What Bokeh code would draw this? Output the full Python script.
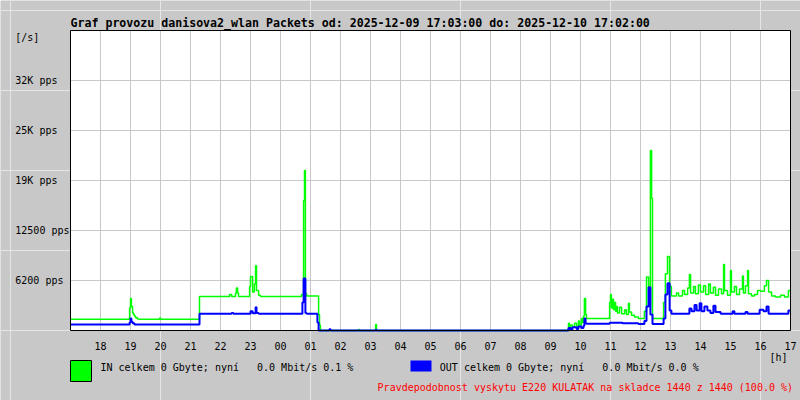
from bokeh.plotting import figure
from bokeh.models import Range1d, FixedTicker, Label, BoxAnnotation, Grid, LinearAxis
from bokeh.embed import file_html
from bokeh.resources import INLINE

# ---- data (hours since midnight of 2025-12-09; 24+ = next day) ----
in_t = [17.00, 18.97, 19.00, 19.03, 19.07, 19.10, 19.13, 19.17, 19.23, 19.30, 19.97, 20.00,
        21.30, 22.30, 22.37, 22.50, 22.53, 22.57, 22.60, 22.97, 23.00, 23.07, 23.13, 23.17,
        23.20, 23.27, 23.33, 24.70, 24.77, 24.80, 24.83, 24.87, 25.27, 25.30, 25.33,
        26.60, 26.63, 27.17, 27.20,
        33.60, 33.63, 33.67, 33.73, 33.80, 33.87, 33.93, 33.97, 34.03, 34.07, 34.10, 34.13,
        34.17, 34.20, 34.97, 35.00, 35.03, 35.07, 35.10, 35.13, 35.17, 35.20, 35.23, 35.30,
        35.37, 35.47, 35.53, 35.60, 35.63, 35.70, 35.80, 35.93, 36.13, 36.20, 36.27, 36.33,
        36.37, 36.40, 36.77, 36.83, 36.90, 36.97, 37.03, 37.20, 37.27, 37.40, 37.47, 37.57,
        37.63, 37.67, 37.77, 37.83, 37.93, 38.00, 38.10, 38.17, 38.27, 38.33, 38.43, 38.50,
        38.60, 38.70, 38.77, 38.80, 38.90, 39.00, 39.03, 39.13, 39.20, 39.30, 39.40, 39.43,
        39.50, 39.57, 39.60, 39.70, 39.80, 39.90, 40.00, 40.13, 40.20, 40.27, 40.37, 40.50,
        40.67, 40.80, 40.93, 41.00]
in_pps = [1400, 2800, 4000, 3000, 2200, 2000, 1800, 1600, 1450, 1400, 1550, 1400,
          4250, 4500, 4250, 4700, 5300, 4700, 4250, 5500, 6750, 4800, 5800, 8100,
          5000, 4400, 4250, 4500, 16250, 20000, 4600, 4300, 2000, 700, 0,
          120, 0, 750, 0,
          900, 300, 700, 400, 900, 500, 1200, 700, 1500, 1000, 1800, 4000,
          2000, 1500, 3500, 4500, 2800, 3900, 2600, 3500, 2400, 3000, 2200, 2900,
          2100, 2600, 2000, 3400, 2300, 1900, 1700, 1500, 2400, 6700, 3000, 22500,
          16500, 1500, 3500, 7100, 9250, 5500, 4300, 4700, 4300, 5000, 4500, 5300,
          7000, 4700, 5500, 4600, 5700, 4800, 5600, 4500, 5800, 4700, 5400, 4400,
          5200, 4600, 8250, 5000, 4400, 7500, 4800, 5500, 4500, 5200, 6800, 4700,
          5600, 7500, 4600, 4300, 4500, 5000, 4900, 5600, 6250, 4800, 4300, 4200,
          4400, 4200, 5000, 5000]

out_t = [17.00, 18.97, 19.00, 19.03, 19.07, 19.13, 21.30, 22.37, 22.43, 23.00, 23.07, 23.17,
         23.20, 23.27, 24.73, 24.77, 24.83, 24.87, 25.23, 25.27, 25.63, 25.67, 27.17, 27.20,
         33.60, 33.67, 33.73, 33.87, 33.93, 34.03, 34.10, 34.13, 34.17, 34.20, 34.97, 35.40,
         35.93, 36.13, 36.20, 36.27, 36.33, 36.40, 36.77, 36.83, 36.90, 36.97, 37.03, 37.63,
         37.70, 37.80, 37.87, 37.97, 38.03, 38.13, 38.23, 38.33, 38.43, 38.50, 38.67, 39.07,
         39.13, 39.50, 39.57, 39.97, 40.10, 40.20, 40.27, 40.93, 41.00]
out_pps = [750, 1000, 1500, 1100, 900, 750, 2100, 2200, 2100, 2400, 2150, 2900,
           2200, 2100, 3500, 6500, 2200, 2100, 1000, 0, 150, 0, 100, 0,
           300, 100, 400, 200, 500, 300, 600, 1500, 900, 830, 960, 900,
           800, 1200, 3000, 5400, 2000, 800, 1500, 4500, 5900, 2500, 2080, 2750,
           2400, 3200, 2500, 3400, 2400, 3000, 2500, 2200, 3100, 2300, 2100, 2400,
           2100, 2300, 2100, 2600, 2400, 3000, 2100, 2500, 2500]

x_ticks = list(range(18, 42))
x_tick_labels = ["18", "19", "20", "21", "22", "23", "00", "01", "02", "03", "04", "05",
                 "06", "07", "08", "09", "10", "11", "12", "13", "14", "15", "16", "17"]
y_ticks = [6250, 12500, 18750, 25000, 31250]
y_tick_labels = ["6200 pps", "12500 pps", "19K pps", "25K pps", "32K pps"]
y_unit_label = "[/s]"
x_unit_label = "[h]"

title_text = "Graf provozu danisova2_wlan Packets od: 2025-12-09 17:03:00 do: 2025-12-10 17:02:00"
NB = "\u00a0"
in_text = "IN celkem 0 Gbyte; nyní" + NB * 3 + "0.0 Mbit/s 0.1 %"
out_text = "OUT celkem 0 Gbyte; nyní" + NB * 3 + "0.0 Mbit/s 0.0 %"
red_text = "Pravdepodobnost vyskytu E220 KULATAK na skladce 1440 z 1440 (100.0 %)"

# graph window: 24 h x 37500 pps
T0, T1 = 17, 41
V0, V1 = 0, 37500

MONO = "DejaVu Sans Mono"
BG = "#c8c8c8"

# the whole canvas is the frame; 30 px per hour, 125 pps per px
PX_H = 30.0
PX_V = 125.0
p = figure(width=800, height=400, output_backend="svg", toolbar_location=None,
           title=None, x_axis_location=None, y_axis_location=None,
           x_range=Range1d(T0 - 70 / PX_H, T0 + 730 / PX_H),
           y_range=Range1d(V0 - 70 * PX_V, V0 + 330 * PX_V),
           min_border=0)
p.border_fill_color = BG
p.background_fill_color = BG
p.outline_line_color = None

# white graph area
p.add_layout(BoxAnnotation(left=T0, right=T1, bottom=V0, top=V1, fill_color="white",
                           fill_alpha=1, line_color=None, level="underlay"))
# grid
p.add_layout(Grid(dimension=0, ticker=FixedTicker(ticks=x_ticks[:-1]), bounds=(T0, T1),
                  cross_bounds=(V0, V1), grid_line_color=BG, grid_line_width=1, level="underlay"))
p.add_layout(Grid(dimension=1, ticker=FixedTicker(ticks=y_ticks), bounds=(V0, V1),
                  cross_bounds=(T0, T1), grid_line_color=BG, grid_line_width=1, level="underlay"))

# series
p.step(in_t, in_pps, mode="after", line_color="#00ff00", line_width=1.5)
p.step(out_t, out_pps, mode="after", line_color="#0000ff", line_width=2)

# frame outline on top
p.add_layout(BoxAnnotation(left=T0, right=T1, bottom=V0, top=V1, fill_alpha=0,
                           line_color="black", line_width=1, line_alpha=1, line_dash="solid",
                           level="annotation"))

# axes
xa = LinearAxis(fixed_location=V0, ticker=FixedTicker(ticks=x_ticks),
                major_label_overrides={t: l for t, l in zip(x_ticks, x_tick_labels)})
yt = y_ticks + [V1 - 6.7 * PX_V]
yl = y_tick_labels + [y_unit_label]
w = max(len(s) for s in yl)
ya = LinearAxis(fixed_location=T0, ticker=FixedTicker(ticks=yt),
                major_label_overrides={t: l + NB * (w - len(l)) for t, l in zip(yt, yl)})
for ax in (xa, ya):
    ax.axis_line_color = None
    ax.major_tick_line_color = None
    ax.minor_tick_line_color = None
    ax.major_tick_in = 0
    ax.major_tick_out = 0
    ax.major_label_text_font = MONO
    ax.major_label_text_font_size = "10px"
    ax.major_label_text_color = "black"
xa.major_label_standoff = 11
ya.major_label_standoff = 1
p.add_layout(xa, "below")
p.add_layout(ya, "left")

# texts
def lab(x, y, text, size="10px", color="black", align="left", baseline="middle", style="normal"):
    p.add_layout(Label(x=x, y=y, text=text, text_font=MONO, text_font_size=size,
                       text_color=color, text_align=align, text_baseline=baseline,
                       text_font_style=style))

lab(T0, V1 + 7.6 * PX_V, title_text, size="11.6px", baseline="alphabetic", style="bold")
lab(T0 + 708 / PX_H, V0 - 27 * PX_V, x_unit_label, align="center")
lab(T0 + 30 / PX_H, V0 - 36.7 * PX_V, in_text)
lab(T0 + 369.3 / PX_H, V0 - 36.7 * PX_V, out_text)
lab(T0 + 722.5 / PX_H, V0 - 56.7 * PX_V, red_text, color="#ff0000", align="right")

# legend swatches
p.add_layout(BoxAnnotation(left=T0, right=T0 + 21 / PX_H, top=V0 - 30 * PX_V,
                           bottom=V0 - 51 * PX_V, fill_color="#00ff00", fill_alpha=1,
                           line_color="black", line_width=1, line_alpha=1, line_dash="solid"))
p.add_layout(BoxAnnotation(left=T0 + 340 / PX_H, right=T0 + 361 / PX_H, top=V0 - 30 * PX_V,
                           bottom=V0 - 41 * PX_V, fill_color="#0000ff", fill_alpha=1,
                           line_color=None))

open("out.html", "w").write(file_html(p, INLINE))
